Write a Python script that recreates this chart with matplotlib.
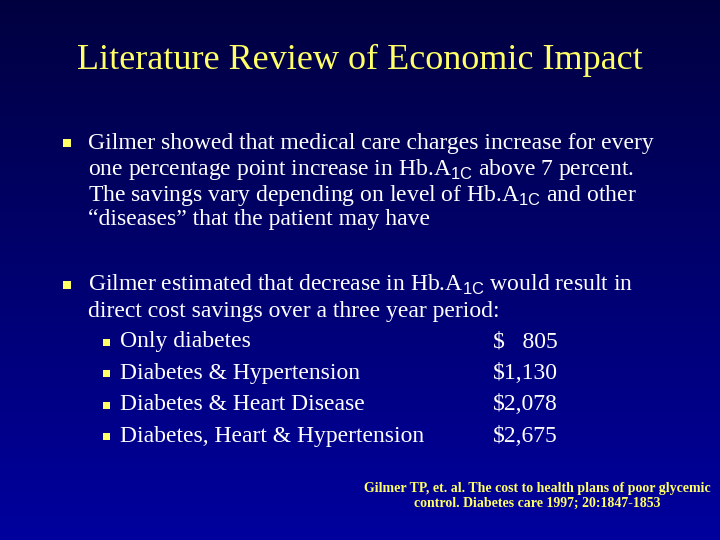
import numpy as np
import matplotlib.pyplot as plt
from matplotlib.patches import Rectangle

plt.rcParams['font.family'] = ['Liberation Serif', 'DejaVu Serif']
plt.rcParams['mathtext.fontset'] = 'custom'
plt.rcParams['mathtext.rm'] = 'Liberation Sans'

# data
conditions = ['Only diabetes', 'Diabetes & Hypertension',
              'Diabetes & Heart Disease', 'Diabetes, Heart & Hypertension']
savings = ['$   805', '$1,130', '$2,078', '$2,675']

W, H = 720, 540
fig = plt.figure(figsize=(7.2, 5.4), dpi=100)
bg = fig.add_axes([0, 0, 1, 1])
grad = np.linspace(0, 1, 256)[:, None]
top = np.array([0.0, 0.0, 0.25])
bot = np.array([0.0, 0.0, 0.62])
img = top + (bot - top) * grad[..., None]
bg.imshow(np.repeat(img, 2, axis=1), aspect='auto', extent=[0, W, H, 0])
bg.set_xlim(0, W)
bg.set_ylim(H, 0)
bg.axis('off')

yellow = '#ffff66'
bg.text(360, 60, 'Literature Review of Economic Impact', color=yellow,
        fontsize=26, ha='center', va='center')

def line(x, y, s):
    bg.text(x, y, s, color='white', fontsize=17, ha='left', va='center')

def square(x, y, size=8):
    bg.add_patch(Rectangle((x, y - size / 2), size, size, color=yellow, lw=0))

hb = r'Hb.A$_{\mathrm{1C}}$'
square(63, 143)
line(88, 143, 'Gilmer showed that medical care charges increase for every')
line(88, 169, 'one percentage point increase in ' + hb + ' above 7 percent.')
line(88, 195, 'The savings vary depending on level of ' + hb + ' and other')
line(88, 220, '\u201cdiseases\u201d that the patient may have')

square(63, 285)
line(88, 285, 'Gilmer estimated that decrease in ' + hb + ' would result in')
line(88, 311, 'direct cost savings over a three year period:')
for i, (c, v) in enumerate(zip(conditions, savings)):
    y = 342 + i * 31.5
    square(103, y, 7)
    line(120, y, c)
    line(493, y, v)

bg.text(537, 496, 'Gilmer TP, et. al. The cost to health plans of poor glycemic\n'
        'control. Diabetes care 1997; 20:1847-1853', color=yellow,
        fontsize=10, fontweight='bold', ha='center', va='center',
        linespacing=1.15)

fig.savefig('out.png', dpi=100)
